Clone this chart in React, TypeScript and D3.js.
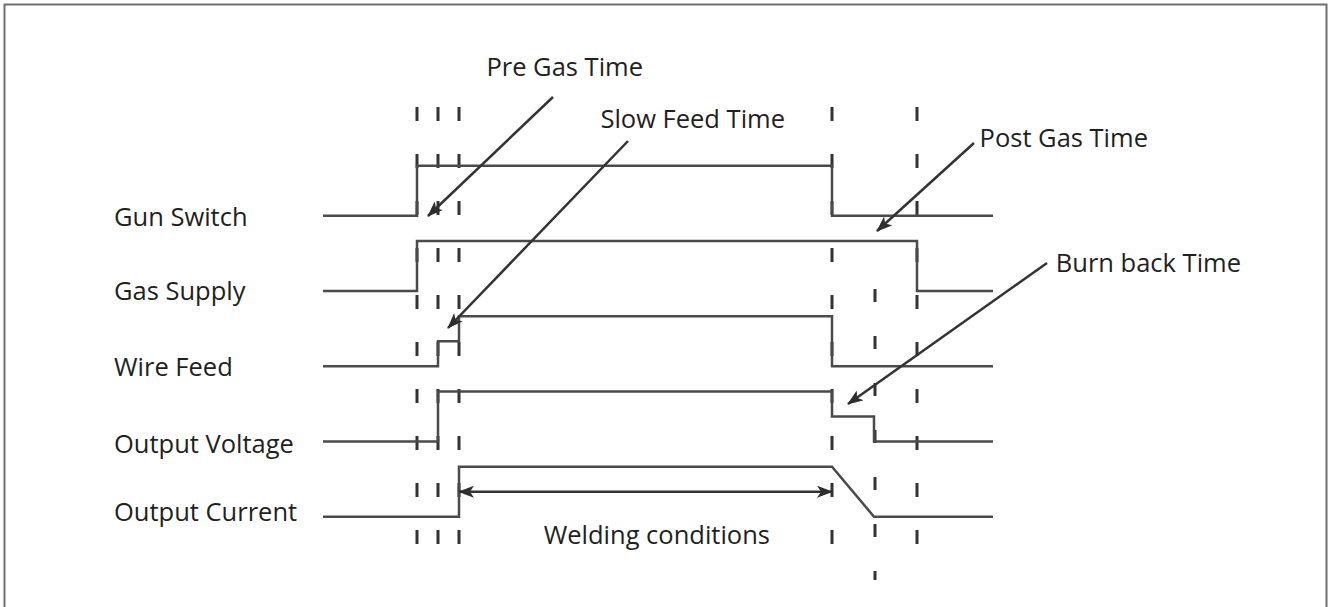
import React from 'react';
import * as d3 from 'd3';

// ---- Data ----
const signalNames = ['Gun Switch', 'Gas Supply', 'Wire Feed', 'Output Voltage', 'Output Current'];
// time markers (relative units)
const markerTimes = [94, 115, 136, 509, 594];
const burnBackMarker = 552;
const timeEnd = 670;
// signal waveforms: [time, level]
const gunSwitch: [number, number][] = [[0, 0], [94, 0], [94, 1], [509, 1], [509, 0], [670, 0]];
const gasSupply: [number, number][] = [[0, 0], [94, 0], [94, 1], [594, 1], [594, 0], [670, 0]];
const wireFeed: [number, number][] = [[0, 0], [115, 0], [115, 0.5], [136, 0.5], [136, 1], [509, 1], [509, 0], [670, 0]];
const outputVoltage: [number, number][] = [[0, 0], [115, 0], [115, 1], [509, 1], [509, 0.5], [551, 0.5], [551, 0], [670, 0]];
const outputCurrent: [number, number][] = [[0, 0], [136, 0], [136, 1], [509, 1], [551, 0], [670, 0]];
const signals = [gunSwitch, gasSupply, wireFeed, outputVoltage, outputCurrent];

const annotationLabels = ['Pre Gas Time', 'Slow Feed Time', 'Post Gas Time', 'Burn back Time'];
const weldingLabel = 'Welding conditions';
const weldingSpan = [136, 509];

export default function App() {
  const W = 1335, H = 607;
  const x = d3.scaleLinear().domain([0, timeEnd]).range([323, 993]);
  const rowLow = d3.scaleLinear().domain([0, 4]).range([215.7, 516.7]);
  const levelH = 50;
  const line = (row: number) =>
    d3.line<[number, number]>()
      .x(d => x(d[0]))
      .y(d => rowLow(row) - d[1] * levelH);

  const font = "'Open Sans', sans-serif";
  const fs = 25.5;
  const sigColor = '#4a4a4a';
  const dashColor = '#333';
  const textColor = '#231f20';

  const labelBaselines = [226, 300, 376, 453, 521];

  // annotation layout: text position (end anchor), arrow start, arrow tip
  const annLayout = [
    { tx: 643, ty: 76, x1: 553, y1: 97, x2: 428, y2: 216 },
    { tx: 785, ty: 128, x1: 628, y1: 141, x2: 448, y2: 328 },
    { tx: 1148, ty: 147, x1: 974, y1: 143, x2: 877, y2: 231 },
    { tx: 1241, ty: 272, x1: 1047, y1: 263, x2: 848, y2: 404 },
  ];

  return (
    <svg width={W} height={H} style={{ position: 'absolute', left: 0, top: 0, background: '#fff' }}>
      <defs>
        <marker id="ah" viewBox="0 0 16 12" refX="15" refY="6" markerWidth="16" markerHeight="12"
          markerUnits="userSpaceOnUse" orient="auto-start-reverse">
          <path d="M0,0 L16,6 L0,12 L4,6 Z" fill="#2e2e2e" />
        </marker>
      </defs>
      <rect x={4.5} y={4.5} width={1322} height={640} fill="none" stroke="#6e6e6e" strokeWidth={2} />

      {/* dashed time markers */}
      {markerTimes.map((t, i) => (
        <line key={'m' + i} x1={x(t)} x2={x(t)} y1={107} y2={545}
          stroke={dashColor} strokeWidth={3} strokeDasharray="14 33" />
      ))}
      <line x1={x(burnBackMarker)} x2={x(burnBackMarker)} y1={289} y2={580}
        stroke={dashColor} strokeWidth={3} strokeDasharray="13 34" />

      {/* signals */}
      {signals.map((s, i) => (
        <path key={'s' + i} d={line(i)(s) || ''} fill="none" stroke={sigColor} strokeWidth={2.5} />
      ))}

      {/* signal labels */}
      {signalNames.map((n, i) => (
        <text key={'l' + i} x={114} y={labelBaselines[i]} fontFamily={font} fontSize={fs} fill={textColor}>{n}</text>
      ))}

      {/* annotations */}
      {annotationLabels.map((n, i) => {
        const a = annLayout[i];
        return (
          <g key={'a' + i}>
            <line x1={a.x1} y1={a.y1} x2={a.x2} y2={a.y2} stroke="#333" strokeWidth={2.5} markerEnd="url(#ah)" />
            <text x={a.tx} y={a.ty} textAnchor="end" fontFamily={font} fontSize={fs} fill={textColor}>{n}</text>
          </g>
        );
      })}

      {/* welding conditions double arrow */}
      <line x1={x(weldingSpan[0])} x2={x(weldingSpan[1])} y1={491.7} y2={491.7}
        stroke="#333" strokeWidth={2.5} markerStart="url(#ah)" markerEnd="url(#ah)" />
      <text x={770} y={544} textAnchor="end"
        fontFamily={font} fontSize={fs} fill={textColor}>{weldingLabel}</text>
    </svg>
  );
}
